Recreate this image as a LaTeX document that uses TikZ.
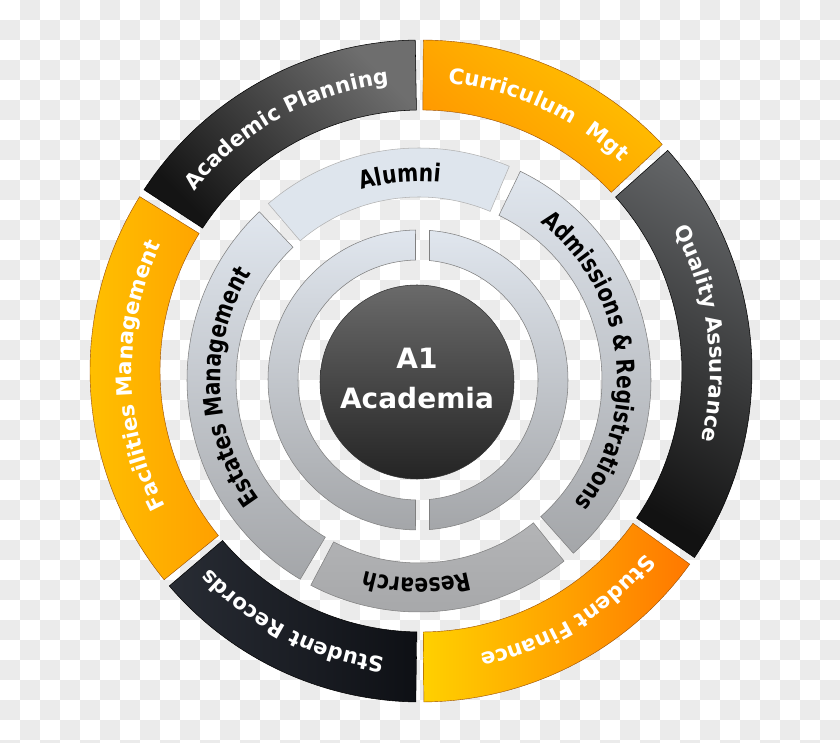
\documentclass[tikz,border=0pt]{standalone}
\usepackage{fontspec}
\setsansfont{DejaVu Sans}
\newfontfamily\narrowsans{DejaVu Sans}[FakeStretch=0.82]
\usetikzlibrary{decorations.text}

\definecolor{checkgray}{HTML}{EBEBEB}
\definecolor{aptop}{HTML}{6E6E6E}
\definecolor{apbot}{HTML}{141414}
\definecolor{qatop}{HTML}{646668}
\definecolor{qabot}{HTML}{121212}
\definecolor{srleft}{HTML}{282C34}
\definecolor{srright}{HTML}{0E1015}
\definecolor{cmtop}{HTML}{FFC300}
\definecolor{cmbot}{HTML}{FF9400}
\definecolor{sfleft}{HTML}{FFD000}
\definecolor{sfright}{HTML}{FF7800}
\definecolor{fmleft}{HTML}{FFC500}
\definecolor{fmright}{HTML}{FFA000}
\definecolor{paletop}{HTML}{E0E6EE}
\definecolor{palebot}{HTML}{A4A6A9}
\definecolor{alumnifill}{HTML}{DEE5ED}
\definecolor{rsrtop}{HTML}{B3B4B6}
\definecolor{rsrbot}{HTML}{A5A6A8}
\definecolor{coretop}{HTML}{6A6A6A}
\definecolor{corebot}{HTML}{242424}

\newcommand\outerfont{\sffamily\bfseries\fontsize{16}{19}\selectfont}
\newcommand\innerfont{\narrowsans\bfseries\fontsize{18.5}{21}\selectfont}

\tikzset{every picture/.style={line width=0.75pt}}
\tikzset{
  darkseg/.style={draw=black, line width=0.4pt},
  goldseg/.style={draw=orange!60!black, line width=0.3pt},
  paleseg/.style={draw=black!50, line width=0.4pt},
  outertext/.style={decorate, decoration={text along path, text align=center, text color=white, text={|\outerfont|#1}}},
  innertext/.style={decorate, decoration={text along path, text align=center, text color=black, text={|\innerfont|#1}}},
  coretext/.style={text=white, align=center, font=\sffamily\bfseries\fontsize{21}{30}\selectfont}
}

\begin{document}
\begin{tikzpicture}[x=0.75pt,y=0.75pt]
\useasboundingbox (0,0) rectangle (840,743);

%Background: checkerboard
\fill[white] (0,0) rectangle (840,743);
\foreach \i in {0,...,41}{
  \foreach \j in {0,...,37}{
    \pgfmathtruncatemacro\k{mod(\i+\j,2)}
    \ifnum\k=1 \fill[checkgray] (\i*20,743-\j*20) rectangle ++(20,-20); \fi
  }
}

\coordinate (O1) at (421,372);
\coordinate (O2) at (419,363);
\coordinate (O3) at (418,363);

%Outer ring
\begin{scope}[shift={(O1)}]
%Shape: Ring segment, Academic Planning
\draw[darkseg, top color=aptop, bottom color=apbot, shading angle=-45] (91:331) arc[start angle=91, end angle=146.8, radius=331] -- (146.8:261) arc[start angle=146.8, end angle=91, radius=261] -- cycle;
%Shape: Ring segment, Curriculum Mgt
\draw[goldseg, top color=cmtop, bottom color=cmbot, shading angle=-40] (43.2:331) arc[start angle=43.2, end angle=89.6, radius=331] -- (89.6:261) arc[start angle=89.6, end angle=43.2, radius=261] -- cycle;
%Shape: Ring segment, Quality Assurance
\draw[darkseg, top color=qatop, bottom color=qabot, shading angle=-30] (-34.3:331) arc[start angle=-34.3, end angle=41.8, radius=331] -- (41.8:261) arc[start angle=41.8, end angle=-34.3, radius=261] -- cycle;
%Shape: Ring segment, Student Finance
\draw[goldseg, left color=sfleft, right color=sfright] (-89.5:331) arc[start angle=-89.5, end angle=-35.7, radius=331] -- (-35.7:261) arc[start angle=-35.7, end angle=-89.5, radius=261] -- cycle;
%Shape: Ring segment, Student Records
\draw[darkseg, left color=srleft, right color=srright] (-139.5:331) arc[start angle=-139.5, end angle=-90.9, radius=331] -- (-90.9:261) arc[start angle=-90.9, end angle=-139.5, radius=261] -- cycle;
%Shape: Ring segment, Facilities Management
\draw[goldseg, left color=fmleft, right color=fmright] (148.2:331) arc[start angle=148.2, end angle=219.1, radius=331] -- (219.1:261) arc[start angle=219.1, end angle=148.2, radius=261] -- cycle;

%Outer ring labels
\path[outertext={Academic Planning}] (164:289) arc[start angle=164, end angle=74, radius=289];
\path[outertext={Curriculum {\ }Mgt}] (110.5:289) arc[start angle=110.5, end angle=20.5, radius=289];
\path[outertext={Quality Assurance}] (52.7:289) arc[start angle=52.7, end angle=-37.3, radius=289];
\path[outertext={Student Finance}] (-13.7:289) arc[start angle=-13.7, end angle=-103.7, radius=289];
\path[outertext={Student Records}] (-72.1:289) arc[start angle=-72.1, end angle=-162.1, radius=289];
\path[outertext={Facilities Management}] (226:289) arc[start angle=226, end angle=136, radius=289];
\end{scope}

%Middle ring
\begin{scope}[shift={(O2)}]
%Shape: Ring segment, Alumni
\draw[paleseg, draw=black!30, fill=alumnifill] (67.1:232) arc[start angle=67.1, end angle=130.5, radius=232] -- (130.5:183) arc[start angle=130.5, end angle=67.1, radius=183] -- cycle;
%Shape: Ring segment, Estates Management
\draw[paleseg, top color=paletop, bottom color=palebot] (133.5:232) arc[start angle=133.5, end angle=239.2, radius=232] -- (239.2:183) arc[start angle=239.2, end angle=133.5, radius=183] -- cycle;
%Shape: Ring segment, Research
\draw[paleseg, top color=rsrtop, bottom color=rsrbot] (242.2:232) arc[start angle=242.2, end angle=308.7, radius=232] -- (308.7:183) arc[start angle=308.7, end angle=242.2, radius=183] -- cycle;
%Shape: Ring segment, Admissions & Registrations
\draw[paleseg, top color=paletop, bottom color=palebot] (-48.3:232) arc[start angle=-48.3, end angle=64.1, radius=232] -- (64.1:183) arc[start angle=64.1, end angle=-48.3, radius=183] -- cycle;

%Middle ring labels
\path[innertext={Alumni}] (135.4:198.5) arc[start angle=135.4, end angle=55.4, radius=198.5];
\path[innertext={Estates Management}] (247.1:198.5) arc[start angle=247.1, end angle=117.1, radius=198.5];
\path[innertext={Research}] (-50.6:198.5) arc[start angle=-50.6, end angle=-130.6, radius=198.5];
\path[innertext={Admissions {\&} Registrations}] (72:198.5) arc[start angle=72, end angle=-58, radius=198.5];
\end{scope}

%Inner split ring
\begin{scope}[shift={(O3)}]
%Shape: Half ring, left
\draw[paleseg, top color=paletop, bottom color=palebot] (90.95:150) arc[start angle=90.95, end angle=269.05, radius=150] -- (268.81:120) arc[start angle=268.81, end angle=91.19, radius=120] -- cycle;
%Shape: Half ring, right
\draw[paleseg, top color=paletop, bottom color=palebot] (-85.6:150) arc[start angle=-85.6, end angle=85.6, radius=150] -- (84.5:120) arc[start angle=84.5, end angle=-84.5, radius=120] -- cycle;
\end{scope}

%Shape: Circle, core
\draw[draw=black!80, line width=0.4pt, top color=coretop, bottom color=corebot] (417,361) circle[radius=97];
\node[coretext] (core) at (417,365) {A1\\Academia};

\end{tikzpicture}
\end{document}
